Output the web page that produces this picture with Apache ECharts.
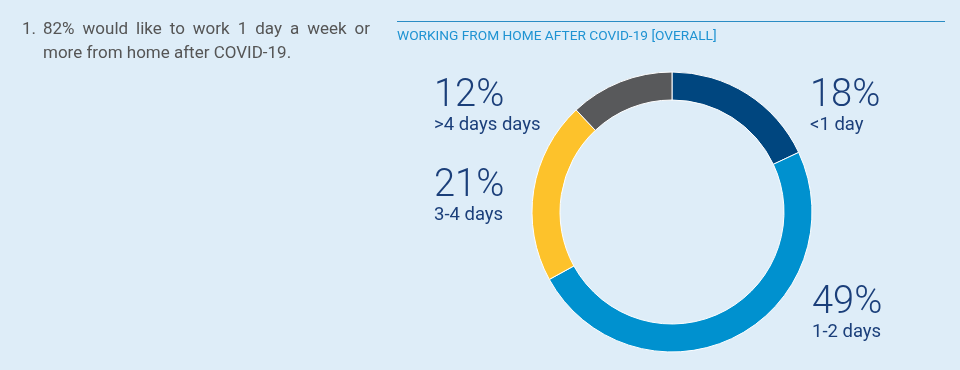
<!DOCTYPE html>
<html><head><meta charset="utf-8">
<script src="https://cdn.jsdelivr.net/npm/echarts@6/dist/echarts.min.js"></script>
<style>html,body{margin:0;padding:0;background:#deedf8;}#c{width:960px;height:370px;}</style>
</head><body><div id="c"></div>
<script>
var categories = ['<1 day', '1-2 days', '3-4 days', '>4 days days'];
var values = [18, 49, 21, 12];
var colors = ['#00467f', '#0091cf', '#fdc22b', '#58595b'];
var titleText = 'WORKING FROM HOME AFTER COVID-19 [OVERALL]';
var noteNum = '1.';
var noteLine1 = '82% would like to work 1 day a week or';
var noteLine2 = 'more from home after COVID-19.';

var labelPos = [[810, 77], [812, 284], [434, 167], [434, 77]];

var noteFont = '17px "Roboto", sans-serif';
var ctx = document.createElement('canvas').getContext('2d');
ctx.font = noteFont;
function justified(line, x0, x1, top) {
  var words = line.split(' ');
  var total = 0;
  words.forEach(function (w) { total += ctx.measureText(w).width; });
  var gap = (x1 - x0 - total) / (words.length - 1);
  var x = x0, out = [];
  words.forEach(function (w) {
    out.push({type: 'text', x: x, y: top, style: {text: w, fill: '#555555', font: noteFont}});
    x += ctx.measureText(w).width + gap;
  });
  return out;
}

var graphics = [
  {type: 'line', shape: {x1: 397, y1: 21.5, x2: 945, y2: 21.5}, style: {stroke: '#2a8cc4', lineWidth: 1}},
  {type: 'text', x: 397, y: 30, style: {text: titleText, fill: '#1f93d2', font: '13.7px "Roboto", sans-serif'}},
  {type: 'text', x: 22, y: 21, style: {text: noteNum, fill: '#555555', font: noteFont}},
  {type: 'text', x: 43, y: 45, style: {text: noteLine2, fill: '#555555', font: noteFont}}
].concat(justified(noteLine1, 43, 370, 21));

var chart = echarts.init(document.getElementById('c'));
chart.setOption({
  backgroundColor: '#deedf8',
  animation: false,
  graphic: graphics,
  series: [{
    type: 'pie',
    center: [672, 212],
    radius: [112, 140],
    startAngle: 90,
    clockwise: true,
    silent: true,
    itemStyle: {borderColor: '#ffffff', borderWidth: 1},
    labelLine: {show: false},
    label: {
      show: true,
      position: 'outside',
      formatter: function (p) { return '{v|' + p.value + '%}\n{n|' + p.name + '}'; },
      rich: {
        v: {fontSize: 38, fontWeight: 300, color: '#1b3f7a', fontFamily: 'Roboto', lineHeight: 38},
        n: {fontSize: 18.5, color: '#1b3f7a', fontFamily: 'Roboto', lineHeight: 20}
      }
    },
    labelLayout: function (p) {
      var pos = labelPos[p.dataIndex];
      return {x: pos[0], y: pos[1], align: 'left', verticalAlign: 'top'};
    },
    data: categories.map(function (c, i) {
      return {name: c, value: values[i], itemStyle: {color: colors[i]}};
    })
  }]
});
</script></body></html>
